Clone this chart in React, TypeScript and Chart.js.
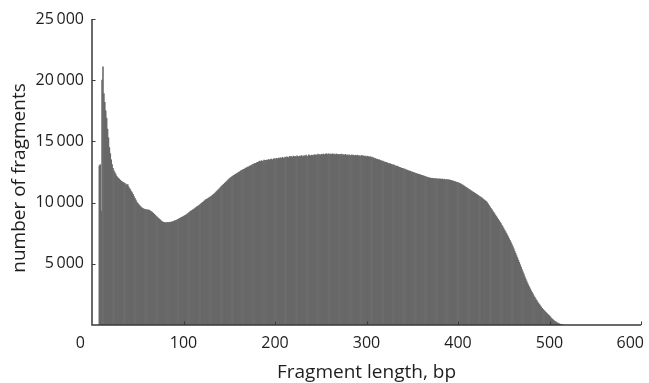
import React, { useEffect, useRef } from "react";
import { Chart, registerables } from "chart.js";

Chart.register(...registerables);

// Histogram: one bar per base pair, starting at FIRST_LENGTH bp
const FIRST_LENGTH = 8;

const countsPeak = [
  13000, 13100, 9300, 20000, 21100, 18900, 18200, 17500, 16900, 16000,
  15300, 14500, 14000, 13500, 13100, 12800, 12600, 12450, 12300, 12150,
  12050, 11980, 11900, 11820, 11750, 11700, 11650, 11620, 11560, 11520,
  11400, 11480, 11300, 11150, 11050, 10900, 10800, 10650, 10500, 10350,
  10200, 10050, 9950, 9850, 9760, 9680, 9600, 9550, 9500, 9480,
  9440, 9420, 9400, 9380, 9400, 9350, 9300, 9260, 9200, 9120,
];

const countsValley = [
  9050, 8980, 8900, 8830, 8760, 8700, 8630, 8560, 8480, 8430,
  8400, 8380, 8350, 8360, 8340, 8380, 8350, 8400, 8380, 8420,
  8450, 8440, 8500, 8530, 8560, 8600, 8640, 8680, 8720, 8760,
  8800, 8830, 8870, 8920, 8960, 9000, 9060, 9120, 9180, 9240,
  9300, 9340, 9400, 9450, 9500, 9560, 9620, 9680, 9720, 9780,
  9830, 9900, 9960, 10020, 10080, 10150, 10220, 10260, 10300, 10350,
  10400, 10450, 10500, 10560, 10620, 10680, 10740, 10820, 10900, 10970,
  11050, 11120, 11200, 11280, 11360, 11430, 11500, 11580, 11650, 11720,
  11800, 11870, 11950, 12010, 12060, 12120, 12170, 12220, 12270, 12320,
  12360, 12410, 12460, 12500,
];

const countsPlateau = [
  12550, 12610, 12630, 12700, 12720, 12760, 12830, 12820, 12900, 12910,
  12950, 13020, 13010, 13090, 13120, 13150, 13210, 13190, 13260, 13290,
  13320, 13380, 13350, 13420, 13400, 13380, 13470, 13430, 13450, 13480,
  13440, 13520, 13490, 13500, 13560, 13480, 13540, 13600, 13550, 13580,
  13620, 13560, 13640, 13600, 13660, 13590, 13700, 13650, 13620, 13720,
  13680, 13740, 13700, 13660, 13780, 13730, 13760, 13690, 13800, 13740,
  13780, 13710, 13820, 13760, 13730, 13800, 13770, 13850, 13740, 13800,
  13830, 13760, 13880, 13810, 13790, 13900, 13840, 13800, 13880, 13860,
  13820, 13920, 13870, 13900, 13840, 13960, 13890, 13930, 13880, 13950,
  13910, 13970, 13900, 13940, 14000, 13920, 13960, 13990, 13930, 13970,
  13940, 13990, 13920, 13960, 13900, 13980, 13930, 13950, 13890, 13940,
  13900, 13960, 13880, 13920, 13870, 13940, 13860, 13900, 13840, 13910,
  13860, 13820, 13900, 13840, 13880, 13810, 13860, 13830, 13880, 13800,
  13850, 13790, 13830, 13860, 13780, 13820, 13760, 13800, 13740, 13790,
];

const countsShoulder = [
  13760, 13700, 13770, 13680, 13720, 13640, 13660, 13580, 13600, 13530,
  13540, 13480, 13500, 13430, 13440, 13380, 13400, 13330, 13320, 13270,
  13280, 13230, 13200, 13170, 13180, 13120, 13100, 13060, 13080, 13010,
  13000, 12960, 12980, 12910, 12880, 12860, 12820, 12800, 12770, 12740,
  12730, 12680, 12670, 12630, 12600, 12580, 12560, 12510, 12500, 12460,
  12450, 12410, 12400, 12360, 12340, 12310, 12290, 12270, 12230, 12220,
  12180, 12160, 12130, 12100, 12080, 12050, 12040, 12010, 12000, 11980,
  11990, 11960, 11970, 11940, 11960, 11930, 11950, 11910, 11940, 11920,
  11900, 11930, 11880, 11910, 11870, 11890, 11860, 11880, 11840, 11850,
  11820, 11800, 11780, 11750, 11730, 11700, 11680, 11650, 11630, 11600,
];

const countsTail = [
  11570, 11530, 11480, 11440, 11390, 11340, 11290, 11240, 11190, 11140,
  11090, 11040, 10990, 10940, 10890, 10840, 10790, 10740, 10690, 10640,
  10590, 10540, 10490, 10440, 10380, 10320, 10260, 10200, 10140, 10090,
  9990, 9880, 9760, 9650, 9540, 9420, 9310, 9200, 9090, 8970,
  8860, 8750, 8630, 8520, 8410, 8280, 8150, 8020, 7880, 7750,
  7620, 7490, 7340, 7190, 7040, 6890, 6730, 6570, 6400, 6220,
  6040, 5860, 5670, 5490, 5300, 5110, 4920, 4730, 4530, 4340,
  4150, 3960, 3770, 3590, 3420, 3260, 3100, 2950, 2800, 2660,
  2520, 2390, 2260, 2130, 2010, 1890, 1780, 1670, 1570, 1470,
  1370, 1280, 1190, 1110, 1030, 960, 880, 810, 740, 670,
  560, 490, 420, 360, 300, 250, 200, 160, 120, 90,
  60, 40, 20, 10,
];

const xTicks = [0, 100, 200, 300, 400, 500, 600];
const yTicks = [5000, 10000, 15000, 20000, 25000];
const X_TITLE = "Fragment length, bp";
const Y_TITLE = "number of fragments";

const FONT = "'Open Sans', 'DejaVu Sans', sans-serif";

function fmtY(v: number): string {
  const s = String(v);
  return s.length > 3 ? s.slice(0, -3) + "\u2009" + s.slice(-3) : s;
}

const axesPlugin = {
  id: "axesPlugin",
  afterDraw(chart: any) {
    const ctx = chart.ctx as CanvasRenderingContext2D;
    const xs = chart.scales.x;
    const ys = chart.scales.y;
    const { left, right, top, bottom } = chart.chartArea;
    ctx.save();
    // axis lines
    ctx.strokeStyle = "#3a3a3a";
    ctx.lineWidth = 1.5;
    ctx.beginPath();
    ctx.moveTo(left, ys.getPixelForValue(25000));
    ctx.lineTo(left, bottom);
    ctx.lineTo(right, bottom);
    ctx.stroke();
    // ticks (inward)
    ctx.lineWidth = 1;
    ctx.beginPath();
    xTicks.forEach((t) => {
      if (t === 0) return;
      const x = Math.round(xs.getPixelForValue(t)) + 0.5;
      ctx.moveTo(x, bottom);
      ctx.lineTo(x, bottom - 3.5);
    });
    yTicks.forEach((t) => {
      const y = Math.round(ys.getPixelForValue(t)) + 0.5;
      ctx.moveTo(left, y);
      ctx.lineTo(left + 3.5, y);
    });
    ctx.stroke();

    ctx.fillStyle = "#1e1e1e";
    ctx.font = `16px ${FONT}`;
    // y tick labels
    ctx.textAlign = "right";
    ctx.textBaseline = "middle";
    yTicks.forEach((t) => {
      ctx.fillText(fmtY(t), left - 8, ys.getPixelForValue(t));
    });
    // x tick labels
    ctx.textBaseline = "alphabetic";
    xTicks.forEach((t, i) => {
      const x = xs.getPixelForValue(t);
      if (i === 0) {
        ctx.textAlign = "right";
        ctx.fillText(String(t), x - 7, bottom + 23);
      } else if (i === xTicks.length - 1) {
        ctx.textAlign = "right";
        ctx.fillText(String(t), x + 3, bottom + 23);
      } else {
        ctx.textAlign = "center";
        ctx.fillText(String(t), x, bottom + 23);
      }
    });
    // titles
    ctx.font = `19px ${FONT}`;
    ctx.textAlign = "center";
    ctx.textBaseline = "alphabetic";
    ctx.fillText(X_TITLE, (left + right) / 2, bottom + 53);
    ctx.save();
    ctx.translate(25, (top + bottom) / 2 + 6);
    ctx.rotate(-Math.PI / 2);
    ctx.fillText(Y_TITLE, 0, 0);
    ctx.restore();
    ctx.restore();
  },
};

export default function App() {
  const ref = useRef<HTMLCanvasElement | null>(null);
  useEffect(() => {
    if (!ref.current) return;
    const counts = [
      ...countsPeak,
      ...countsValley,
      ...countsPlateau,
      ...countsShoulder,
      ...countsTail,
    ];
    const points = counts.map((c, i) => ({ x: FIRST_LENGTH + i, y: c }));
    const chart = new Chart(ref.current, {
      type: "bar",
      data: {
        datasets: [
          {
            data: points as any,
            backgroundColor: "#686868",
            borderWidth: 0,
            barPercentage: 1,
            categoryPercentage: 1,
            grouped: false,
          } as any,
        ],
      },
      options: {
        responsive: false,
        animation: false,
        devicePixelRatio: 1,
        layout: { padding: { left: 92, right: 8, top: 19, bottom: 58 } },
        plugins: { legend: { display: false }, tooltip: { enabled: false } },
        scales: {
          x: { type: "linear", min: 0, max: 600, display: false, offset: false },
          y: { type: "linear", min: 0, max: 25000, display: false },
        },
      },
      plugins: [axesPlugin],
    });
    return () => chart.destroy();
  }, []);
  return (
    <div style={{ position: "absolute", left: 0, top: 0, width: 649, height: 383, background: "#fff" }}>
      <canvas ref={ref} width={649} height={383} style={{ display: "block" }} />
    </div>
  );
}
